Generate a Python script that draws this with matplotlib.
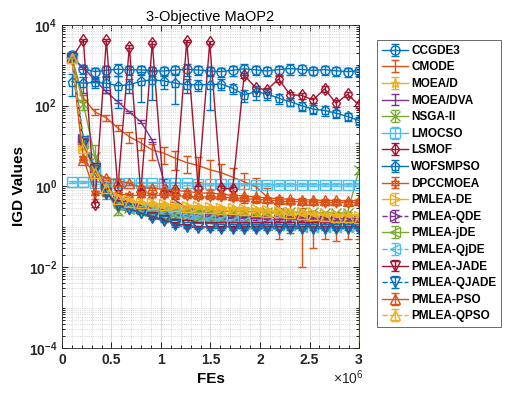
import numpy as np
import matplotlib
matplotlib.use('Agg')
import matplotlib.pyplot as plt
from matplotlib.ticker import MultipleLocator, LogLocator, FixedLocator, FuncFormatter, NullFormatter

plt.rcParams['font.family'] = ['Liberation Sans', 'DejaVu Sans']
plt.rcParams['mathtext.fontset'] = 'custom'
plt.rcParams['mathtext.rm'] = 'Liberation Sans'
plt.rcParams['mathtext.bf'] = 'Liberation Sans:bold'

# FEs sample points (26 checkpoints)
fes = np.linspace(1e5, 3e6, 26)

ccgde3 = [1800, 800, 700, 750, 800, 770, 770, 730, 720, 760, 800, 760, 720,
          700, 750, 820, 770, 720, 780, 830, 790, 740, 780, 730, 700, 730]
cmode = [1500, 155, 70, 50, 28, 17, 12, 8, 6.7, 5, 3.9, 3.3, 2.6,
         2.2, 1.7, 1.3, 1.0, 0.55, 0.3, 0.22, 0.15, 0.14, 0.13, 0.12, 0.12, 0.11]
moead = [1500, 12, 3, 1.1, 0.5, 0.4, 0.35, 0.32, 0.3, 0.29, 0.28, 0.27, 0.26,
         0.25, 0.25, 0.24, 0.23, 0.22, 0.21, 0.2, 0.19, 0.18, 0.17, 0.16, 0.15, 0.14]
moeadva = [1500, 860, 435, 220, 125, 70, 40, 14, 1.4, 0.45, 0.3, 0.25, 0.22,
           0.2, 0.19, 0.18, 0.18, 0.17, 0.17, 0.17, 0.16, 0.16, 0.16, 0.16, 0.16, 0.16]
nsga2 = [1500, 110, 5.5, 0.8, 0.25, 0.3, 0.28, 0.27, 0.26, 0.25, 0.25, 0.25, 0.25,
         0.24, 0.24, 0.24, 0.24, 0.23, 0.23, 0.23, 0.23, 0.23, 0.22, 0.22, 0.22, 2.6]
lmocso = [1.3, 1.3, 1.25, 1.25, 1.2, 1.2, 1.2, 1.2, 1.2, 1.2, 1.2, 1.15, 1.15,
          1.15, 1.15, 1.15, 1.1, 1.1, 1.1, 1.1, 1.1, 1.1, 1.1, 1.1, 1.1, 1.1]
lsmof = [1500, 4200, 0.36, 4200, 0.9, 2900, 0.7, 3600, 0.7, 0.8, 4000, 0.9, 3700,
         0.9, 0.88, 570, 275, 245, 460, 185, 180, 138, 260, 115, 190, 105]
wofsmpso = [390, 360, 375, 360, 310, 330, 400, 435, 410, 360, 330, 330, 330,
            345, 270, 185, 220, 195, 153, 126, 100, 82, 76, 65, 54, 43]
dpccmoea = [1500, 5, 0.7, 0.65, 0.65, 0.6, 0.6, 0.6, 0.6, 0.58, 0.58, 0.55, 0.55,
            0.55, 0.52, 0.5, 0.48, 0.46, 0.44, 0.42, 0.42, 0.41, 0.4, 0.4, 0.4, 0.4]
pmlea_de = [1500, 10, 2.5, 1.0, 0.55, 0.45, 0.4, 0.38, 0.36, 0.34, 0.33, 0.32, 0.31,
            0.3, 0.29, 0.28, 0.27, 0.26, 0.25, 0.24, 0.23, 0.22, 0.21, 0.2, 0.2, 0.19]
pmlea_qde = [1500, 15, 3, 1.0, 0.45, 0.35, 0.3, 0.25, 0.22, 0.2, 0.19, 0.18, 0.17,
             0.17, 0.16, 0.16, 0.16, 0.15, 0.15, 0.15, 0.15, 0.15, 0.15, 0.14, 0.14, 0.14]
pmlea_jde = [1500, 12, 2.5, 0.8, 0.35, 0.28, 0.25, 0.22, 0.2, 0.18, 0.17, 0.16, 0.15,
             0.14, 0.13, 0.12, 0.12, 0.11, 0.11, 0.11, 0.1, 0.1, 0.1, 0.1, 0.1, 0.1]
pmlea_qjde = [1500, 14, 3, 0.9, 0.4, 0.3, 0.28, 0.25, 0.23, 0.22, 0.2, 0.18, 0.16,
              0.15, 0.14, 0.13, 0.12, 0.12, 0.11, 0.11, 0.11, 0.1, 0.1, 0.1, 0.1, 0.1]
pmlea_jade = [1500, 11, 2.8, 0.7, 0.35, 0.28, 0.22, 0.18, 0.15, 0.12, 0.11, 0.1, 0.1,
              0.1, 0.1, 0.1, 0.1, 0.1, 0.1, 0.1, 0.1, 0.1, 0.1, 0.1, 0.1, 0.1]
pmlea_qjade = [1500, 13, 2.6, 0.65, 0.33, 0.27, 0.22, 0.17, 0.14, 0.11, 0.1, 0.095, 0.092,
               0.09, 0.09, 0.09, 0.09, 0.09, 0.09, 0.09, 0.09, 0.09, 0.09, 0.09, 0.09, 0.09]
pmlea_pso = [1500, 4.5, 2.2, 1.6, 1.4, 1.2, 0.95, 0.9, 0.85, 0.8, 0.75, 0.7, 0.68,
             0.65, 0.6, 0.58, 0.55, 0.52, 0.5, 0.48, 0.47, 0.46, 0.45, 0.45, 0.44, 0.45]
pmlea_qpso = [1500, 9, 2.2, 0.9, 0.5, 0.42, 0.38, 0.36, 0.34, 0.32, 0.31, 0.3, 0.29,
              0.28, 0.27, 0.26, 0.25, 0.24, 0.23, 0.22, 0.21, 0.2, 0.19, 0.18, 0.18, 0.17]

# standard deviations (error bars)
ccgde3_err = [300, 200, 180, 200, 250, 200, 200, 180, 180, 200, 250, 200, 180,
              180, 200, 250, 200, 180, 200, 250, 200, 180, 200, 180, 180, 200]
cmode_err = [100, 30, 12, 8, 5, 5, 4, 3.5, 3, 2.5, 1.8, 2, 1.8,
             1.5, 1.2, 0.9, 0.6, 0.35, 0.25, 0.15, 0.14, 0.11, 0.08, 0.075, 0.07, 0.06]
nsga2_err = [100, 30, 5, 0.3, 0.05, 0.03, 0.02, 0.02, 0.02, 0.02, 0.02, 0.02, 0.02,
             0.02, 0.02, 0.02, 0.02, 0.02, 0.02, 0.02, 0.02, 0.02, 0.02, 0.02, 0.02, 9.0]
wofsmpso_err = [220, 150, 100, 150, 220, 120, 280, 300, 150, 250, 120, 100, 250,
                100, 80, 60, 80, 60, 40, 30, 25, 20, 20, 15, 12, 10]
lsmof_err = [100, 300, 0.05, 300, 0.1, 300, 0.1, 300, 0.1, 0.1, 300, 0.1, 300,
             0.1, 0.1, 80, 40, 30, 80, 30, 30, 20, 40, 20, 30, 15]
small_err = 0.08  # relative spread of the remaining series

c1, c2, c3, c4, c5, c6, c7 = '#0072BD', '#D95319', '#EDB120', '#7E2F8E', '#77AC30', '#4DBEEE', '#A2142F'
hexagram = (6, 1, 0)

series = [
    ('CCGDE3', ccgde3, ccgde3_err, c1, 'o', '-'),
    ('CMODE', cmode, cmode_err, c2, None, '-'),
    ('MOEA/D', moead, None, c3, '*', '-'),
    ('MOEA/DVA', moeadva, None, c4, None, '-'),
    ('NSGA-II', nsga2, nsga2_err, c5, 'x', '-'),
    ('LMOCSO', lmocso, None, c6, 's', '-'),
    ('LSMOF', lsmof, lsmof_err, c7, 'd', '-'),
    ('WOFSMPSO', wofsmpso, wofsmpso_err, c1, 'p', '-'),
    ('DPCCMOEA', dpccmoea, None, c2, hexagram, '-'),
    ('PMLEA-DE', pmlea_de, None, c3, '>', '-'),
    ('PMLEA-QDE', pmlea_qde, None, c4, '>', '--'),
    ('PMLEA-jDE', pmlea_jde, None, c5, '<', '-'),
    ('PMLEA-QjDE', pmlea_qjde, None, c6, '<', '--'),
    ('PMLEA-JADE', pmlea_jade, None, c7, 'v', '-'),
    ('PMLEA-QJADE', pmlea_qjade, None, c1, 'v', '--'),
    ('PMLEA-PSO', pmlea_pso, None, c2, '^', '-'),
    ('PMLEA-QPSO', pmlea_qpso, None, c3, '^', '--'),
]

fig = plt.figure(figsize=(5.06, 4.01), dpi=100)
ax = fig.add_axes([0.1225, 0.132, 0.587, 0.806])

for name, vals, err, col, mk, ls in series:
    vals = np.array(vals, dtype=float)
    if err is None:
        err = vals * small_err
    ax.errorbar(fes, vals, yerr=err, color=col, marker=mk, linestyle=ls,
                linewidth=1, elinewidth=1, capsize=3, markersize=6.5,
                markerfacecolor='none', markeredgewidth=1, label=name)

ax.set_yscale('log')
ax.set_ylim(1e-4, 1e4)
ax.set_xlim(0, 3e6)
ax.yaxis.set_major_locator(FixedLocator([1e-4, 1e-2, 1e0, 1e2, 1e4]))
ax.yaxis.set_minor_locator(LogLocator(base=10, subs=np.arange(1, 10), numticks=20))
ax.yaxis.set_minor_formatter(NullFormatter())
ax.yaxis.set_major_formatter(FuncFormatter(lambda v, p: r'$\mathbf{10^{%d}}$' % round(np.log10(v))))
ax.set_xticks([0, 0.5e6, 1e6, 1.5e6, 2e6, 2.5e6, 3e6])
ax.set_xticklabels(['0', '0.5', '1', '1.5', '2', '2.5', '3'])
ax.xaxis.set_minor_locator(MultipleLocator(1e5))
ax.text(1.015, -0.062, r'$\times\mathregular{10^{6}}$', transform=ax.transAxes,
        ha='right', va='top', fontsize=10, color='#262626')

for lab in ax.get_xticklabels() + ax.get_yticklabels():
    lab.set_fontweight('bold')
    lab.set_fontsize(10)
    lab.set_color('#262626')

ax.tick_params(which='both', direction='in', top=True, right=True, width=0.6)
ax.tick_params(which='major', length=4)
ax.tick_params(which='minor', length=2)
ax.grid(which='major', color='#dddddd', linewidth=0.8, linestyle='-')
ax.grid(which='minor', color='#c8c8c8', linewidth=0.6, linestyle=':')
ax.set_axisbelow(True)
for sp in ax.spines.values():
    sp.set_linewidth(0.6)
    sp.set_color('#262626')

ax.set_title('3-Objective MaOP2', fontsize=10.5, pad=3)
ax.set_xlabel('FEs', fontsize=11, fontweight='bold', labelpad=4)
ax.set_ylabel('IGD Values', fontsize=11, fontweight='bold', labelpad=2)

leg = fig.legend(loc='upper left', bbox_to_anchor=(0.745, 0.9),
                 prop={'weight': 'bold', 'size': 8.5}, frameon=True, fancybox=False,
                 edgecolor='#262626', labelspacing=0.39, handlelength=2.2,
                 handletextpad=0.3, borderpad=0.4, borderaxespad=0)
leg.get_frame().set_linewidth(0.6)

fig.savefig('out.png', dpi=100)
